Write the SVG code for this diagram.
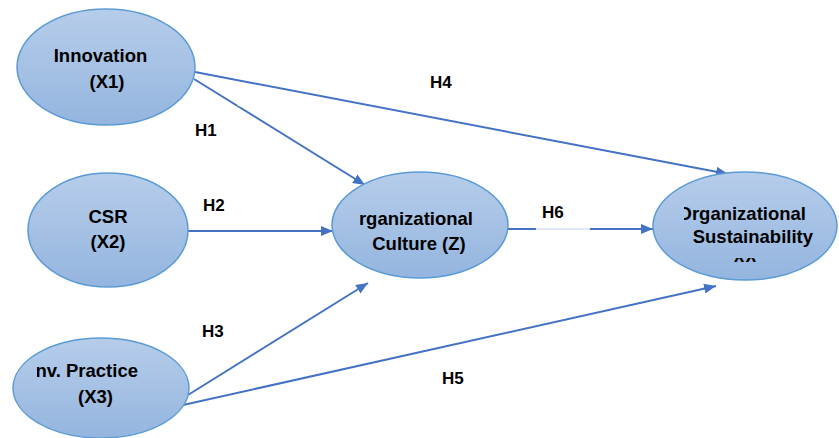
<svg xmlns="http://www.w3.org/2000/svg" width="839" height="438" viewBox="0 0 839 438">
<defs>
<linearGradient id="g" x1="0" y1="0" x2="0" y2="1">
<stop offset="0" stop-color="#b6cdea"/>
<stop offset="1" stop-color="#94b5df"/>
</linearGradient>
<marker id="ah" markerWidth="12" markerHeight="10" refX="12" refY="5" orient="auto" markerUnits="userSpaceOnUse">
<path d="M0,0 L12,5 L0,10 Z" fill="#4472c4"/>
</marker>
<clipPath id="cy"><rect x="684" y="0" width="155" height="262"/></clipPath>
<clipPath id="cz"><rect x="360" y="0" width="200" height="438"/></clipPath>
<clipPath id="cx3"><rect x="37" y="0" width="200" height="438"/></clipPath>
</defs>
<style>
ellipse{fill:url(#g);stroke:#5b9bd5;stroke-width:1.5}
text{font-family:"Liberation Sans",Arial,sans-serif;font-weight:bold;font-size:18.5px;fill:#000}
.lbl{font-size:17px}
.c{stroke:#4472c4;stroke-width:2;fill:none}
</style>
<g id="connectors">
<line class="c" x1="195" y1="72" x2="728" y2="174" marker-end="url(#ah)"/>
<line class="c" x1="194" y1="79" x2="365" y2="185" marker-end="url(#ah)"/>
<line x1="238" y1="104" x2="242" y2="106" stroke="#fff" stroke-width="3"/>
<line class="c" x1="188" y1="231" x2="333" y2="231" marker-end="url(#ah)"/>
<line class="c" x1="508" y1="229" x2="653" y2="229" marker-end="url(#ah)"/>
<line x1="536" y1="229" x2="590" y2="229" stroke="#dfe7f5" stroke-width="2"/>
<line class="c" x1="188" y1="395" x2="368" y2="283" marker-end="url(#ah)"/>
<line class="c" x1="183" y1="405" x2="716" y2="286" marker-end="url(#ah)"/>
<text class="lbl" x="430" y="88">H4</text>
<text class="lbl" x="195" y="136">H1</text>
<text class="lbl" x="203" y="211">H2</text>
<text class="lbl" x="542" y="218">H6</text>
<text class="lbl" x="202" y="337">H3</text>
<text class="lbl" x="442" y="384">H5</text>
</g>
<g id="innovation">
<ellipse cx="106" cy="67" rx="89" ry="58"/>
<text x="100.5" y="62" text-anchor="middle">Innovation</text>
<text x="107" y="88" text-anchor="middle">(X1)</text>
</g>
<g id="csr">
<ellipse cx="108" cy="230" rx="80" ry="57"/>
<text x="108" y="223" text-anchor="middle">CSR</text>
<text x="108" y="248" text-anchor="middle">(X2)</text>
</g>
<g id="envpractice">
<ellipse cx="101" cy="388" rx="88" ry="50"/>
<text x="138" y="377" text-anchor="end" clip-path="url(#cx3)">Env. Practice</text>
<text x="95.5" y="403" text-anchor="middle">(X3)</text>
</g>
<g id="culture">
<ellipse cx="420" cy="225" rx="88" ry="53"/>
<text x="473" y="225" text-anchor="end" clip-path="url(#cz)">Organizational</text>
<text x="419" y="250" text-anchor="middle">Culture (Z)</text>
</g>
<g id="sustainability">
<ellipse cx="745" cy="226" rx="92" ry="54"/>
<g clip-path="url(#cy)">
<text x="806" y="220" text-anchor="end">Organizational</text>
<text x="813" y="243" text-anchor="end">Sustainability</text>
<text x="745" y="271" text-anchor="middle">(Y)</text>
</g>
</g>
</svg>
